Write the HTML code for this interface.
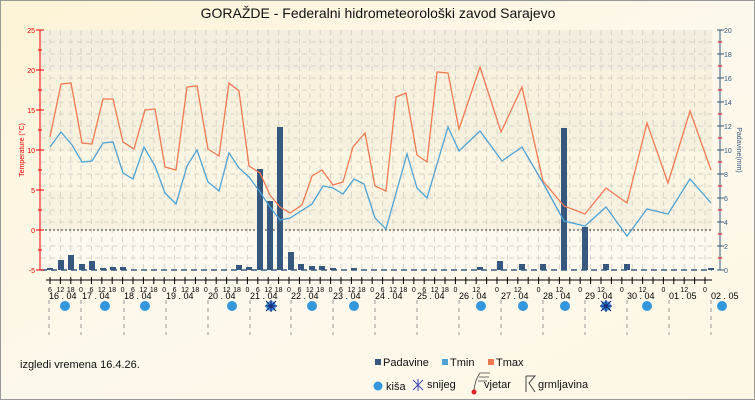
<!DOCTYPE html>
<html><head><meta charset="utf-8"><style>
body{margin:0;padding:0;}
svg{display:block;font-family:"Liberation Sans",sans-serif;}
</style></head><body>
<svg width="755" height="400" viewBox="0 0 755 400" xmlns="http://www.w3.org/2000/svg">
<defs>
<linearGradient id="bg" x1="0" y1="0" x2="1" y2="1">
<stop offset="0" stop-color="#fdf3d6"/><stop offset="0.5" stop-color="#fdf8ec"/><stop offset="1" stop-color="#fdf7e6"/>
</linearGradient>
</defs>
<rect x="0" y="0" width="755" height="400" fill="url(#bg)"/>
<rect x="0.5" y="0.5" width="754" height="399" fill="none" stroke="#999"/>
<text x="378" y="18" font-size="14" text-anchor="middle" fill="#111">GORAŽDE - Federalni hidrometeorološki zavod Sarajevo</text>
<!-- bands -->
<g>
<rect x="41" y="30" width="671" height="40" fill="#f3eee0"/>
<rect x="41" y="70" width="671" height="40" fill="#f8f1dd"/>
<rect x="41" y="110" width="671" height="40" fill="#f6f0df"/>
<rect x="41" y="150" width="671" height="40" fill="#fbf5e4"/>
<rect x="41" y="190" width="671" height="40" fill="#f7f1e2"/>
<rect x="41" y="230" width="671" height="40" fill="#fdf9ee"/>
</g>
<!-- grid -->
<g stroke="#d8d3c8" stroke-width="1" stroke-dasharray="5,4">
<path d="M41 42H712M41 54H712M41 66H712M41 78H712M41 90H712M41 102H712M41 114H712M41 126H712M41 138H712M41 150H712M41 162H712M41 174H712M41 186H712M41 198H712M41 210H712M41 222H712M41 246H712M41 258H712"/>
<path d="M50 30V270M60.4 30V270M70.8 30V270M81 30V270M91.4 30V270M101.8 30V270M112.2 30V270M122.6 30V270M133 30V270M143.4 30V270M153.8 30V270M164.2 30V270M174.6 30V270M185 30V270M195.4 30V270M205.8 30V270M216.2 30V270M226.6 30V270M237 30V270M247.4 30V270M257.8 30V270M268.2 30V270M278.6 30V270M289 30V270M299.4 30V270M309.8 30V270M320.2 30V270M330.6 30V270M341 30V270M351.4 30V270M361.8 30V270M372.2 30V270M382.6 30V270M393 30V270M403.4 30V270M413.8 30V270M424.2 30V270M434.6 30V270M445 30V270M455.4 30V270M465.8 30V270M476.2 30V270M486.6 30V270M497 30V270M507.4 30V270M517.8 30V270M528.2 30V270M538.6 30V270M549 30V270M559.4 30V270M569.8 30V270M580.2 30V270M590.6 30V270M601 30V270M611.4 30V270M621.8 30V270M632.2 30V270M642.6 30V270M653 30V270M663.4 30V270M673.8 30V270M684.2 30V270M694.6 30V270M705 30V270"/>
</g>
<line x1="41" y1="230" x2="712" y2="230" stroke="#333" stroke-dasharray="2,2"/>
<!-- baseline dashes -->
<line x1="41" y1="270" x2="712" y2="270" stroke="#3a5a80" stroke-width="1.5" stroke-dasharray="6,4"/>
<!-- bars -->
<g fill="#36587e">
<rect x="47" y="268" width="6" height="2"/>
<rect x="58" y="260" width="6" height="10"/>
<rect x="68" y="255" width="6" height="15"/>
<rect x="79" y="264" width="6" height="6"/>
<rect x="89" y="261" width="6" height="9"/>
<rect x="100" y="268" width="6" height="2"/>
<rect x="110" y="267" width="6" height="3"/>
<rect x="120" y="267" width="6" height="3"/>
<rect x="236" y="265" width="6" height="5"/>
<rect x="246" y="267" width="6" height="3"/>
<rect x="257" y="169" width="6" height="101"/>
<rect x="267" y="201" width="6" height="69"/>
<rect x="277" y="127" width="6" height="143"/>
<rect x="288" y="252" width="6" height="18"/>
<rect x="298" y="264" width="6" height="6"/>
<rect x="309" y="266" width="6" height="4"/>
<rect x="319" y="266" width="6" height="4"/>
<rect x="330" y="268" width="6" height="2"/>
<rect x="351" y="268" width="6" height="2"/>
<rect x="477" y="267" width="6" height="3"/>
<rect x="497" y="261" width="6" height="9"/>
<rect x="519" y="264" width="6" height="6"/>
<rect x="540" y="264" width="6" height="6"/>
<rect x="561" y="128" width="6" height="142"/>
<rect x="582" y="227" width="6" height="43"/>
<rect x="603" y="264" width="6" height="6"/>
<rect x="624" y="264" width="6" height="6"/>
<rect x="708" y="268" width="6" height="2"/>
</g>
<!-- Tmin -->
<polyline fill="none" stroke="#4fa3d4" stroke-width="1.3" points="50,147 61,132 72,145 82,162 92,161 103,143 113,142 123,173 133,179 144,147 155,166 165,193 176,204 187,166 197,150 208,182 219,191 229,153 239,168 249,177 260,192 270,207 280,220 290,218 312,204 323,186 333,188 343,194 354,179 364,184 375,218 386,229 407,154 417,188 427,198 448,127 459,151 480,131 502,161 522,147 543,183 564,221 585,226 606,207 627,236 647,209 668,214 690,179 711,203"/>
<!-- Tmax -->
<polyline fill="none" stroke="#f27a52" stroke-width="1.3" points="50,137 61,84 71,83 82,143 92,144 103,99 113,99 123,142 134,149 145,110 155,109 165,167 176,170 187,87 197,86 208,149 219,156 229,83 239,91 249,166 260,173 270,195 280,207 290,213 302,205 312,176 322,170 333,185 343,182 353,147 365,133 375,186 386,191 396,97 406,93 417,155 427,162 437,72 448,73 459,129 480,67 501,132 522,87 543,181 564,206 585,214 606,188 627,203 647,123 668,183 690,111 711,170"/>
<!-- left axis -->
<g stroke="#e00" stroke-width="1">
<line x1="40" y1="30" x2="40" y2="270"/>
<path d="M36 30H44M36 70H44M36 110H44M36 150H44M36 190H44M36 230H44M36 270H44M38 50H42M38 90H42M38 130H42M38 170H42M38 210H42M38 250H42"/>
</g>
<g font-size="7" fill="#e00" text-anchor="end">
<text x="35" y="33">25</text><text x="35" y="73">20</text><text x="35" y="113">15</text><text x="35" y="153">10</text><text x="35" y="193">5</text><text x="35" y="233">0</text><text x="35" y="273">-5</text>
</g>
<text transform="translate(24,150) rotate(-90)" font-size="7" fill="#e00" text-anchor="middle">Temperature (°C)</text>
<!-- right axis -->
<g stroke="#36587e" stroke-width="1">
<line x1="720" y1="30" x2="720" y2="270"/>
<path d="M717 30H724M717 54H724M717 78H724M717 102H724M717 126H724M717 150H724M717 174H724M717 198H724M717 222H724M717 246H724M717 270H724"/>
</g>
<path d="M718 42H722M718 66H722M718 90H722M718 114H722M718 138H722M718 162H722M718 186H722M718 210H722M718 234H722M718 258H722" stroke="#e00"/>
<g font-size="7" fill="#36587e">
<text x="724" y="33">20</text><text x="724" y="57">18</text><text x="724" y="81">16</text><text x="724" y="105">14</text><text x="724" y="129">12</text><text x="724" y="153">10</text><text x="724" y="177">8</text><text x="724" y="201">6</text><text x="724" y="225">4</text><text x="724" y="249">2</text><text x="724" y="273">0</text>
</g>
<text transform="translate(737,150) rotate(90)" font-size="7" fill="#36587e" text-anchor="middle">Padavine(mm)</text>
<!-- x axis -->
<line x1="46" y1="280" x2="712" y2="280" stroke="#000"/>
<g stroke="#000">
<path d="M50 277V284M60.4 277V284M70.8 277V284M81 277V284M91.4 277V284M101.8 277V284M112.2 277V284M122.6 277V284M133 277V284M143.4 277V284M153.8 277V284M164.2 277V284M174.6 277V284M185 277V284M195.4 277V284M205.8 277V284M216.2 277V284M226.6 277V284M237 277V284M247.4 277V284M257.8 277V284M268.2 277V284M278.6 277V284M289 277V284M299.4 277V284M309.8 277V284M320.2 277V284M330.6 277V284M341 277V284M351.4 277V284M361.8 277V284M372.2 277V284M382.6 277V284M393 277V284M403.4 277V284M413.8 277V284M424.2 277V284M434.6 277V284M445 277V284M455.4 277V284M465.8 277V284M476.2 277V284M486.6 277V284M497 277V284M507.4 277V284M517.8 277V284M528.2 277V284M538.6 277V284M549 277V284M559.4 277V284M569.8 277V284M580.2 277V284M590.6 277V284M601 277V284M611.4 277V284M621.8 277V284M632.2 277V284M642.6 277V284M653 277V284M663.4 277V284M673.8 277V284M684.2 277V284M694.6 277V284M705 277V284"/>
</g>
<g font-size="7" fill="#000" text-anchor="middle">
<text x="50" y="292">6</text><text x="60.4" y="292">12</text><text x="70.8" y="292">18</text>
<text x="81" y="292">0</text><text x="91.4" y="292">6</text><text x="101.8" y="292">12</text><text x="112.2" y="292">18</text>
<text x="122.6" y="292">0</text><text x="133" y="292">6</text><text x="143.4" y="292">12</text><text x="153.8" y="292">18</text>
<text x="164.2" y="292">0</text><text x="174.6" y="292">6</text><text x="185" y="292">12</text><text x="195.4" y="292">18</text>
<text x="205.8" y="292">0</text><text x="216.2" y="292">6</text><text x="226.6" y="292">12</text><text x="237" y="292">18</text>
<text x="247.4" y="292">0</text><text x="257.8" y="292">6</text><text x="268.2" y="292">12</text><text x="278.6" y="292">18</text>
<text x="289" y="292">0</text><text x="299.4" y="292">6</text><text x="309.8" y="292">12</text><text x="320.2" y="292">18</text>
<text x="330.6" y="292">0</text><text x="341" y="292">6</text><text x="351.4" y="292">12</text><text x="361.8" y="292">18</text>
<text x="372.2" y="292">0</text><text x="382.6" y="292">6</text><text x="393" y="292">12</text><text x="403.4" y="292">18</text>
<text x="413.8" y="292">0</text><text x="424.2" y="292">6</text><text x="434.6" y="292">12</text><text x="445" y="292">18</text>
<text x="455.4" y="292">0</text><text x="476.2" y="292">12</text>
<text x="497" y="292">0</text><text x="517.8" y="292">12</text>
<text x="538.6" y="292">0</text><text x="559.4" y="292">12</text>
<text x="580.2" y="292">0</text><text x="601" y="292">12</text>
<text x="621.8" y="292">0</text><text x="642.6" y="292">12</text>
<text x="663.4" y="292">0</text><text x="684.2" y="292">12</text>
<text x="705" y="292">0</text>
</g>
<g font-size="9" fill="#000" text-anchor="start">
<text x="49" y="299">16 . 04</text><text x="82" y="299">17 . 04</text><text x="124" y="299">18 . 04</text><text x="166" y="299">19 . 04</text>
<text x="208" y="299">20 . 04</text><text x="250" y="299">21 . 04</text><text x="291" y="299">22 . 04</text><text x="333" y="299">23 . 04</text>
<text x="375" y="299">24 . 04</text><text x="417" y="299">25 . 04</text><text x="459" y="299">26 . 04</text><text x="501" y="299">27 . 04</text>
<text x="543" y="299">28 . 04</text><text x="585" y="299">29 . 04</text><text x="627" y="299">30 . 04</text><text x="669" y="299">01 . 05</text><text x="711" y="299">02 . 05</text>
</g>
<g stroke="#999" stroke-dasharray="4,4">
<path d="M49 300V335M81 300V335M124 300V335M166 300V335M208 300V335M250 300V335M291 300V335M333 300V335M375 300V335M417 300V335M459 300V335M501 300V335M543 300V335M585 300V335M627 300V335M669 300V335M711 300V335"/>
</g>
<g fill="#3497dc">
<circle cx="65" cy="306" r="5"/><circle cx="105" cy="306" r="5"/><circle cx="145" cy="306" r="5"/><circle cx="232" cy="306" r="5"/>
<circle cx="312" cy="306" r="5"/><circle cx="354" cy="306" r="5"/><circle cx="481" cy="306" r="5"/><circle cx="523" cy="306" r="5"/>
<circle cx="565" cy="306" r="5"/><circle cx="647" cy="306" r="5"/><circle cx="722" cy="306" r="5"/>
<circle cx="271" cy="306" r="5"/><circle cx="606" cy="306" r="5"/>
</g>
<g stroke="#1a2a7a" stroke-width="1.2">
<path d="M266 301L276 311M276 301L266 311M271 300V312M265 306H277"/>
<path d="M601 301L611 311M611 301L601 311M606 300V312M600 306H612"/>
</g>
<!-- footer -->
<text x="20" y="368" font-size="11" fill="#111">izgledi vremena 16.4.26.</text>
<g font-size="11" fill="#111">
<rect x="375" y="359" width="6" height="6" fill="#36587e"/><text x="383" y="366">Padavine</text>
<rect x="442" y="359" width="6" height="6" fill="#4fa3d4"/><text x="450" y="366">Tmin</text>
<rect x="488" y="359" width="6" height="6" fill="#f27a52"/><text x="496" y="366">Tmax</text>
<circle cx="378" cy="386" r="4.5" fill="#3497dc"/><text x="386" y="390">kiša</text>
<path d="M413 380L423 390M423 380L413 390M418 379V391" stroke="#3a4ab0" stroke-width="1"/><text x="427" y="388">snijeg</text>
<path d="M474 390Q475 380 480 373H490M479 377H489M478 381H487" stroke="#444" fill="none" stroke-width="0.8"/><circle cx="474" cy="392" r="2.5" fill="#d22"/>
<text x="484" y="388">vjetar</text>
<path d="M526 376V392M526 376H535L529 383L535 392" stroke="#444" fill="none" stroke-width="1"/><text x="538" y="388">grmljavina</text>
</g>
</svg>
</body></html>
